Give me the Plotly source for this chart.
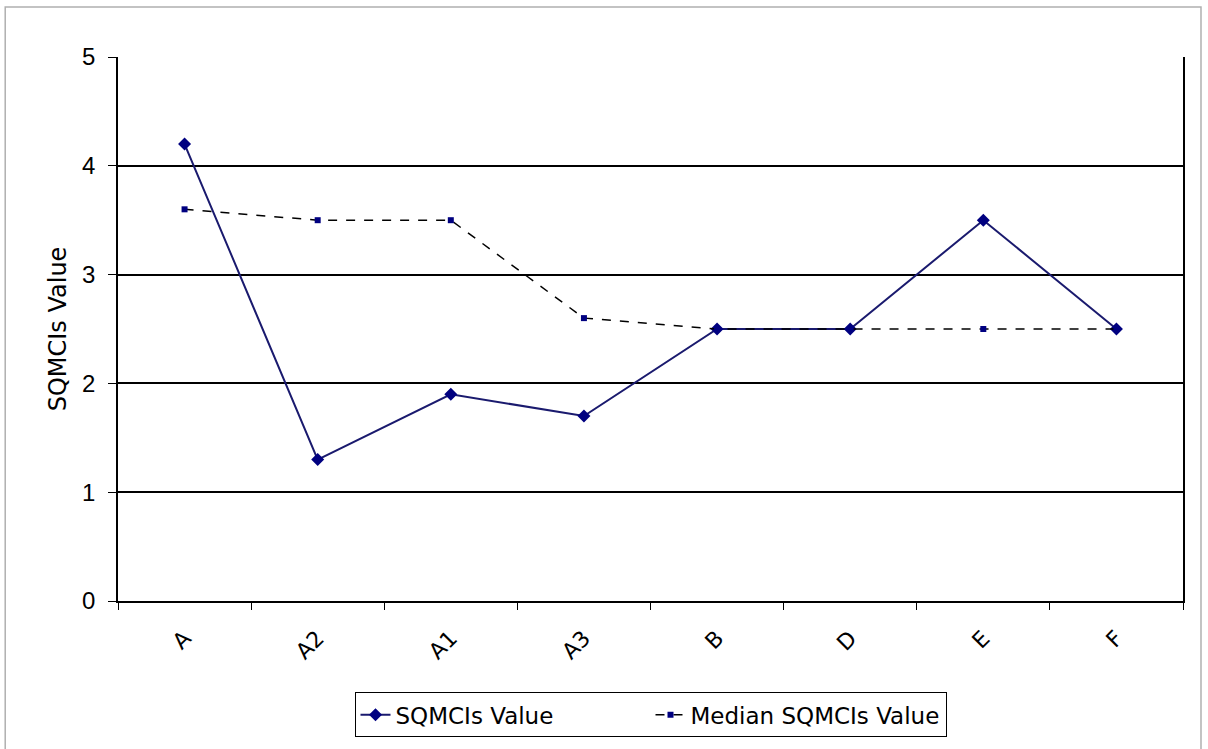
import plotly.graph_objects as go

categories = ["A", "A2", "A1", "A3", "B", "D", "E", "F"]
sqmcis_value = [4.2, 1.3, 1.9, 1.7, 2.5, 2.5, 3.5, 2.5]
median_sqmcis_value = [3.6, 3.5, 3.5, 2.6, 2.5, 2.5, 2.5, 2.5]
y_ticks = [0, 1, 2, 3, 4, 5]

fig = go.Figure()
fig.add_trace(go.Scatter(
    x=categories, y=sqmcis_value, name="SQMCIs Value",
    mode="lines+markers",
    line=dict(color="#1a1a6e", width=2),
    marker=dict(symbol="diamond", size=10, color="#000080"),
))
fig.add_trace(go.Scatter(
    x=categories, y=median_sqmcis_value, name="Median SQMCIs Value",
    mode="lines+markers",
    line=dict(color="#000000", width=1.5, dash="dash"),
    marker=dict(symbol="square", size=6, color="#000080"),
))

fig.update_layout(
    width=1208, height=749,
    margin=dict(l=118, r=25, t=57, b=148),
    paper_bgcolor="white", plot_bgcolor="white",
    font=dict(family="Arial, Liberation Sans, sans-serif", color="black"),
    showlegend=True,
    legend=dict(
        orientation="h", x=0.5, xanchor="center", y=-0.168, yanchor="top",
        bordercolor="black", borderwidth=1, bgcolor="white",
        font=dict(family="DejaVu Sans, sans-serif", size=23),
        entrywidth=250, tracegroupgap=0,
    ),
    xaxis=dict(
        type="category", range=[-0.5, 7.5],
        showline=True, linecolor="black", linewidth=1.5,
        ticks="outside", tickson="boundaries", ticklen=7, tickcolor="black",
        tickangle=-45, tickfont=dict(family="DejaVu Sans, sans-serif", size=22),
        ticklabelstandoff=14,
        showgrid=False, mirror=False,
    ),
    yaxis=dict(
        range=[0, 5], tickvals=y_ticks,
        showline=True, linecolor="black", linewidth=1.5, mirror=True,
        ticks="outside", ticklen=8, tickcolor="black",
        ticklabelstandoff=8,
        showgrid=True, gridcolor="black", gridwidth=1.5,
        zeroline=False,
        tickfont=dict(family="Arial, Liberation Sans, sans-serif", size=24),
        title=dict(text="SQMCIs Value", font=dict(family="DejaVu Sans, sans-serif", size=24), standoff=9),
    ),
)

fig.add_shape(type="rect", xref="paper", yref="paper",
              x0=-0.1059, x1=1.0169, y0=-0.3, y1=1.0919,
              line=dict(color="#b0b0b0", width=1.5))

fig.write_html("out.html", config={"displayModeBar": False},
               post_script="document.body.style.margin='0';document.body.style.overflow='hidden';")
